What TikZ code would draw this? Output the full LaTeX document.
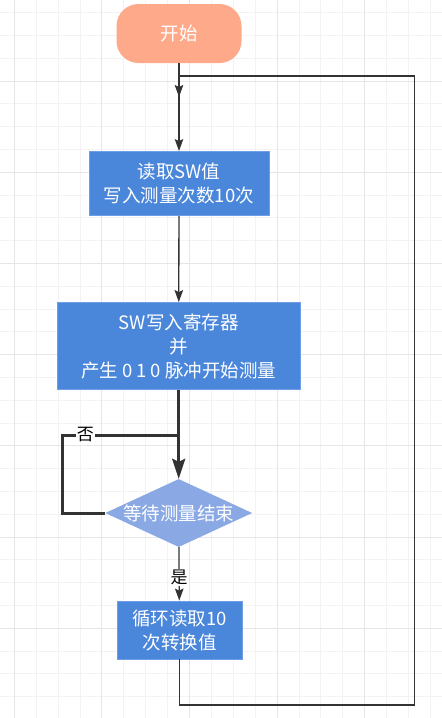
\documentclass[tikz,border=0pt]{standalone}
\usepackage{fontspec}
\setmainfont{Noto Sans CJK SC}
\usetikzlibrary{shapes.geometric,arrows.meta}
\definecolor{startfill}{HTML}{FFA98B}
\definecolor{boxfill}{HTML}{4A86DA}
\definecolor{boxedge}{HTML}{6E9FE6}
\definecolor{diafill}{HTML}{8AA9E4}
\definecolor{linecol}{HTML}{333333}
\definecolor{gridminor}{HTML}{F3F3F3}
\definecolor{gridmajor}{HTML}{E6E6E6}
\begin{document}
\begin{tikzpicture}[x=1pt,y=-1pt,
    boxtext/.style={text=white,align=center,font=\fontsize{18.5}{24}\selectfont,inner sep=0pt},
    startbox/.style={boxtext,rectangle,rounded corners=22pt,fill=startfill},
    flowbox/.style={boxtext,rectangle,fill=boxfill,draw=boxedge,line width=.8pt},
    waitbox/.style={boxtext,diamond,fill=diafill,inner sep=0pt},
    thinline/.style={draw=linecol,line width=1.3pt},
    thickline/.style={draw=linecol,line width=3pt},
    thinarrow/.style={thinline,-{Stealth[length=12pt,width=8.5pt,inset=2pt]}},
    thickarrow/.style={thickline,-{Stealth[length=20pt,width=13pt,inset=3pt]}},
    lbl/.style={fill=white,text=black,font=\fontsize{17}{17}\selectfont,inner sep=1pt}]
    \useasboundingbox (0,0) rectangle (442,718);
    \fill[white] (0,0) rectangle (442,718);
    \foreach \k in {0,...,19} \draw[gridminor,line width=1pt] ({14.3+21.9*\k},0) -- ++(0,718);
    \foreach \k in {0,...,30} \draw[gridminor,line width=1pt] (0,{12.7+22.8*\k}) -- ++(442,0);
    \foreach \k in {0,4,...,16} \draw[gridmajor,line width=1pt] ({14.3+21.9*\k},0) -- ++(0,718);
    \foreach \k in {3,7,...,27} \draw[gridmajor,line width=1pt] (0,{12.7+22.8*\k}) -- ++(442,0);

    \node[startbox,minimum width=125pt,minimum height=59pt] (start) at (179,33.5) {开始};
    \node[flowbox,minimum width=180pt,minimum height=64pt] (read) at (179,183.5) {读取SW值\\写入测量次数10次};
    \node[flowbox,minimum width=243pt,minimum height=87pt] (write) at (178.7,346) {SW写入寄存器\\并\\产生 0 1 0 脉冲开始测量};
    \node[waitbox,minimum width=147pt,minimum height=68pt] (wait) at (178.7,513) {\makebox[0pt]{等待测量结束}};
    \node[flowbox,minimum width=125pt,minimum height=58pt] (loop) at (179.5,630) {循环读取10\\次转换值};

    \coordinate (joint) at (179,76);
    \coordinate (jointend) at (179,97);
    \coordinate (lowright) at (414.3,705);
    \coordinate (upright) at (414.3,76);
    \coordinate (nocorner) at (62,435);
    \coordinate (nojoin) at (178.7,435);

    \draw[thinarrow] (start) -- (read);
    \draw[thinarrow] (read) -- (write);
    \draw[thickarrow] (write) -- (wait);
    \draw[thickline] (wait.west) -| (nocorner) -- node[lbl,pos=.2] {否} (nojoin);
    \draw[thinarrow] (wait) -- node[lbl,pos=.57] {是} (loop);
    \draw[thinarrow] (loop.south) |- (lowright) -- (upright) -- (joint) -- (jointend);
\end{tikzpicture}
\end{document}
